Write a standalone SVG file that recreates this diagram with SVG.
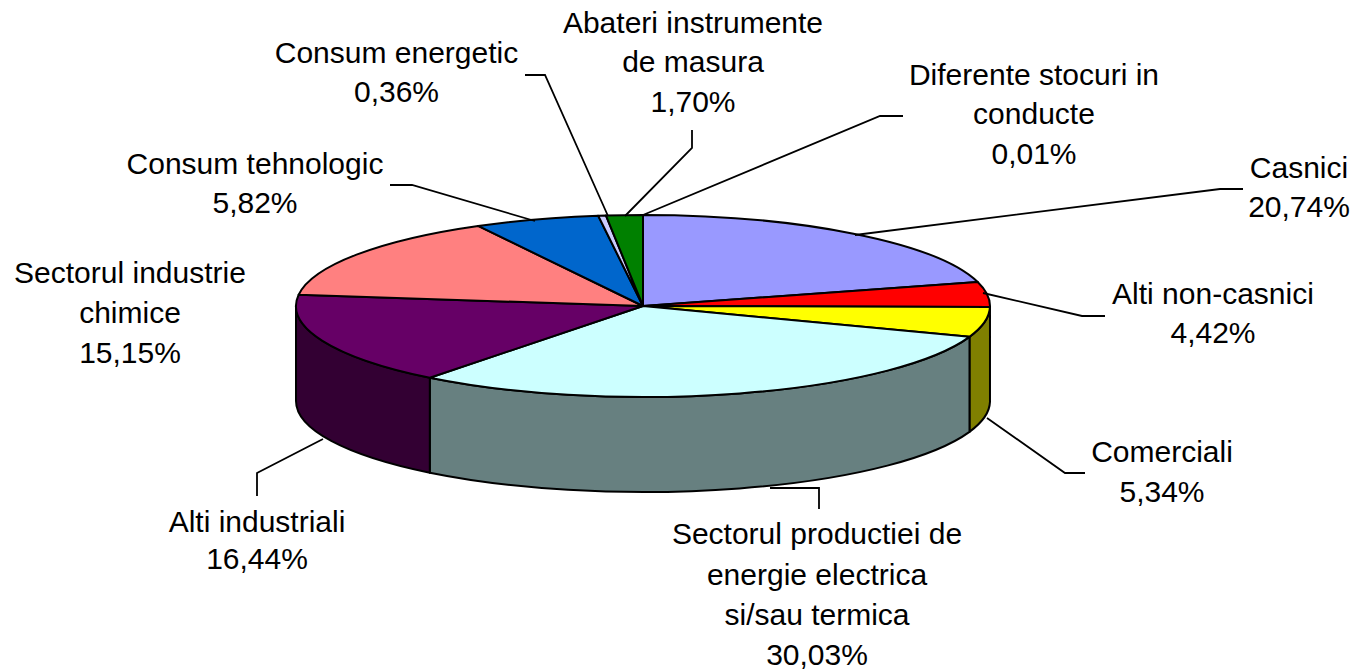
<svg xmlns="http://www.w3.org/2000/svg" width="1359" height="669" viewBox="0 0 1359 669">
<style>
.s{stroke:#000;stroke-width:2;stroke-linejoin:round}
.l{fill:none;stroke:#000;stroke-width:1.8}
text{font-family:"Liberation Sans",Arial,sans-serif;font-size:30px;fill:#000;text-anchor:middle}
</style>
<rect width="1359" height="669" fill="#fff"/>
<g id="pie-sides">
<path class="s" fill="#808000" d="M989.98,306.91 A347,91 0 0 1 969.49,336.83 L969.49,431.83 A347,91 0 0 0 989.98,401.91 Z"/>
<path class="s" fill="#678080" d="M969.49,336.83 A347,91 0 0 1 429.82,377.80 L429.82,472.80 A347,91 0 0 0 969.49,431.83 Z"/>
<path class="s" fill="#330033" d="M429.82,377.80 A347,91 0 0 1 296,306 L296,401 A347,91 0 0 0 429.82,472.80 Z"/>
</g>
<g id="slice-casnici"><path class="s" fill="#9999FF" d="M643,306 L643,215 A347,91 0 0 1 977.70,281.97 Z"/></g>
<g id="slice-alti-non-casnici"><path class="s" fill="#FF0000" d="M643,306 L977.70,281.97 A347,91 0 0 1 989.98,306.91 Z"/></g>
<g id="slice-comerciali"><path class="s" fill="#FFFF00" d="M643,306 L989.98,306.91 A347,91 0 0 1 969.49,336.83 Z"/></g>
<g id="slice-productie"><path class="s" fill="#CCFFFF" d="M643,306 L969.49,336.83 A347,91 0 0 1 429.82,377.80 Z"/></g>
<g id="slice-alti-industriali"><path class="s" fill="#660066" d="M643,306 L429.82,377.80 A347,91 0 0 1 298.65,294.77 Z"/></g>
<g id="slice-chimice"><path class="s" fill="#FF8080" d="M643,306 L298.65,294.77 A347,91 0 0 1 478.10,225.93 Z"/></g>
<g id="slice-tehnologic"><path class="s" fill="#0066CC" d="M643,306 L478.10,225.93 A347,91 0 0 1 598.21,215.76 Z"/></g>
<g id="slice-energetic"><path class="s" fill="#CCCCFF" d="M643,306 L598.21,215.76 A347,91 0 0 1 606.01,215.52 Z"/></g>
<g id="slice-abateri"><path class="s" fill="#008000" d="M643,306 L606.01,215.52 A347,91 0 0 1 643,215 Z"/></g>
<g id="connectors">
<path class="l" d="M1243,189 H1220 L855,235"/>
<path class="l" d="M983,293 L1082,316 H1105"/>
<path class="l" d="M987,418 L1065,473 H1085"/>
<path class="l" d="M770,488 H819 V509"/>
<path class="l" d="M323,439 L257,473 V496"/>
<path class="l" d="M390,185 H412 L535,221"/>
<path class="l" d="M525,75 H545 L608,216"/>
<path class="l" d="M692,130 V148 L625,216"/>
<path class="l" d="M903,116 H880 L643,215"/>
</g>
<g id="labels">
<text x="693" y="33">Abateri instrumente</text>
<text x="693" y="72">de masura</text>
<text x="693" y="112">1,70%</text>
<text x="396.5" y="63">Consum energetic</text>
<text x="396.5" y="102">0,36%</text>
<text x="1034" y="85">Diferente stocuri in</text>
<text x="1034" y="124">conducte</text>
<text x="1034" y="164">0,01%</text>
<text x="1299" y="178">Casnici</text>
<text x="1299" y="217">20,74%</text>
<text x="1213" y="304">Alti non-casnici</text>
<text x="1213" y="343">4,42%</text>
<text x="1162" y="462">Comerciali</text>
<text x="1162" y="502">5,34%</text>
<text x="817" y="544">Sectorul productiei de</text>
<text x="817" y="585">energie electrica</text>
<text x="817" y="625">si/sau termica</text>
<text x="817" y="665">30,03%</text>
<text x="257" y="532">Alti industriali</text>
<text x="257" y="569">16,44%</text>
<text x="130" y="283">Sectorul industrie</text>
<text x="130" y="323">chimice</text>
<text x="130" y="363">15,15%</text>
<text x="255" y="174">Consum tehnologic</text>
<text x="255" y="213">5,82%</text>
</g>
</svg>
